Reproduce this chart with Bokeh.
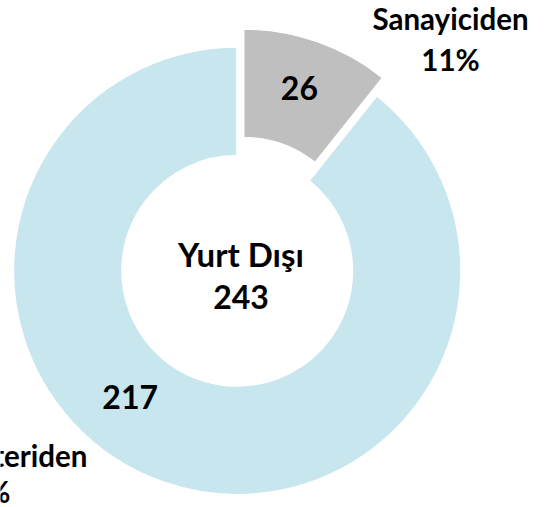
import numpy as np
from bokeh.plotting import figure
from bokeh.models import Range1d
from bokeh.core.properties import value
from bokeh.embed import file_html
from bokeh.resources import INLINE

# ---- data ----
categories = ["Sanayiciden", "Müşteriden"]
values = [26, 217]
center_title = "Yurt Dışı"

# ---- style ----
colors = ["#BFBFBF", "#C7E6EE"]
FONT = value("Lato")
W, H = 551, 507
TS = 12   # baseline correction for svg text
MS = 5

total = sum(values)
fracs = np.array(values, dtype=float) / total
cum = np.concatenate([[0.0], np.cumsum(fracs)])
start_a = np.pi / 2 - 2 * np.pi * cum[1:]
end_a = np.pi / 2 - 2 * np.pi * cum[:-1]
mid_a = (start_a + end_a) / 2

CX, CY = 236.7, H - 270.3
R_IN, R_OUT = 115, 224
explode = np.array([19.0, 0.0])
xs = CX + explode * np.cos(mid_a)
ys = CY + explode * np.sin(mid_a)

p = figure(width=W, height=H, x_range=Range1d(0, W), y_range=Range1d(0, H),
           output_backend="svg", toolbar_location=None, min_border=0,
           x_axis_location=None, y_axis_location=None)
p.grid.visible = False
p.outline_line_color = None
p.background_fill_color = "white"

p.annular_wedge(x=xs, y=ys, inner_radius=R_IN, outer_radius=R_OUT,
                start_angle=start_a, end_angle=end_a,
                fill_color=colors, line_color="white", line_width=2)

# value labels (middle of ring)
r_mid = (R_IN + R_OUT) / 2
label_shift = np.array([0.0, -0.347])
la = mid_a + label_shift
vx = xs + r_mid * np.cos(la)
vy = ys + r_mid * np.sin(la) + MS
p.text(x=vx, y=vy, text=[str(v) for v in values], text_font=FONT, text_font_style="bold",
       text_font_size="32px", text_align="center", text_baseline="middle", text_color="black")

# centre text
p.text(x=[240.5], y=[H - 265 + TS], text=[center_title],
       text_font=FONT, text_font_style="bold", text_font_size="33px",
       text_align="center", text_baseline="alphabetic", text_color="black")
p.text(x=[240.5], y=[H - 308 + TS], text=[str(total)],
       text_font=FONT, text_font_style="bold", text_font_size="32px",
       text_align="center", text_baseline="alphabetic", text_color="black")

# category labels
pcts = [f"{round(v / total * 100)}%" for v in values]
p.text(x=[450, 450], y=[H - 30 + TS, H - 71 + TS], text=[categories[0], pcts[0]],
       text_font=FONT, text_font_style="bold", text_font_size="29.5px",
       text_align="center", text_baseline="alphabetic", text_color="black")
p.text(x=[87, 10], y=[H - 467 + TS, H - 503 + TS], text=[categories[1], pcts[1]],
       text_font=FONT, text_font_style="bold", text_font_size="29.5px",
       text_align="right", text_baseline="alphabetic", text_color="black")

open("out.html", "w").write(file_html(p, INLINE))
